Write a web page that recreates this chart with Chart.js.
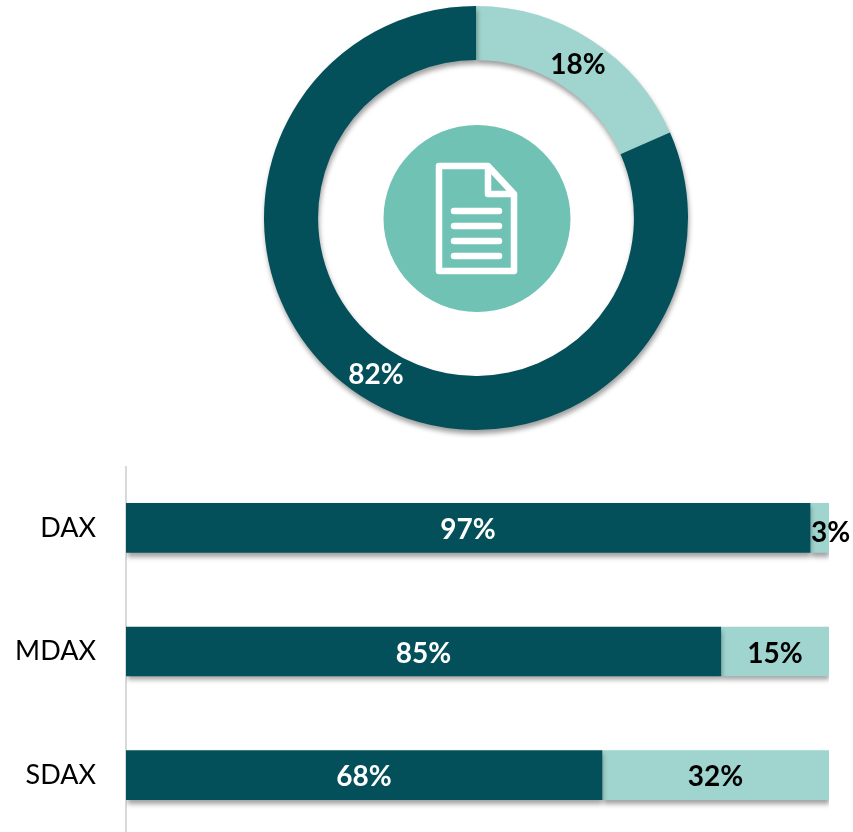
<!DOCTYPE html>
<html>
<head>
<meta charset="utf-8">
<style>
html,body{margin:0;padding:0;width:853px;height:832px;overflow:hidden;background:#fff}
canvas{position:absolute;display:block}
#donut{left:256px;top:-2px}
#bars{left:0;top:466px}
#icon{position:absolute;left:0;top:0}
</style>
<script src="https://cdn.jsdelivr.net/npm/chart.js@4"></script>
</head>
<body>
<canvas id="donut" width="440" height="440" style="width:440px;height:440px"></canvas>
<svg id="icon" width="853" height="440" viewBox="0 0 853 440">
  <circle cx="477" cy="218.500" r="93.500" fill="#70c2b4"/>
  <path d="M439 166H488L514 194V271H439Z" fill="none" stroke="#fff" stroke-width="6.500" stroke-linejoin="round"/>
  <path d="M488 166V194H514" fill="none" stroke="#fff" stroke-width="6.500" stroke-linejoin="round"/>
  <g stroke="#fff" stroke-width="6.500" stroke-linecap="round">
    <line x1="454" y1="211" x2="499" y2="211"/>
    <line x1="454" y1="226" x2="499" y2="226"/>
    <line x1="454" y1="241" x2="499" y2="241"/>
    <line x1="454" y1="256" x2="499" y2="256"/>
  </g>
</svg>
<canvas id="bars" width="853" height="371" style="width:853px;height:371px"></canvas>
<script>
const donutLabels = ["A", "B"];
const donutValues = [18.4, 81.6];
const categories = ["DAX", "MDAX", "SDAX"];
const darkValues = [97.3, 84.6, 67.7];
const lightValues = [2.7, 15.4, 32.3];

const DARK = "#034f5a";
const LIGHT = "#9fd4cf";
const FONT = "Lato, Carlito, sans-serif";

const shadow = {
  id: "softShadow",
  beforeDatasetDraw(chart) {
    const c = chart.ctx;
    c.save();
    c.shadowColor = "rgba(0,0,0,0.38)";
    c.shadowBlur = 5;
    c.shadowOffsetX = 1;
    c.shadowOffsetY = 4;
  },
  afterDatasetDraw(chart) { chart.ctx.restore(); }
};

const valueLabels = {
  id: "valueLabels",
  afterDatasetsDraw(chart) {
    const c = chart.ctx;
    c.save();
    c.font = "bold 28px " + FONT;
    c.textBaseline = "middle";
    chart.data.datasets.forEach((ds, di) => {
      chart.getDatasetMeta(di).data.forEach((el, i) => {
        const v = ds.data[i];
        const text = Math.round(v) + "%";
        const p = el.tooltipPosition();
        c.fillStyle = ds.labelColors ? ds.labelColors[i] : ds.labelColor;
        if (chart.config.type === "bar") {
          if (v < 5) {
            c.textAlign = "left";
            c.fillText(text, el.base + 1, el.y + 5);
          } else {
            c.textAlign = "center";
            c.fillText(text, (el.base + el.x) / 2, el.y + 2);
          }
        } else {
          c.textAlign = "center";
          c.fillText(text, p.x + 1, p.y + 2);
        }
      });
    });
    c.restore();
  }
};

new Chart(document.getElementById("donut"), {
  type: "doughnut",
  data: {
    labels: donutLabels,
    datasets: [{
      data: donutValues,
      backgroundColor: [LIGHT, DARK],
      borderWidth: 0,
      labelColors: ["#000", "#fff"]
    }]
  },
  options: {
    responsive: false,
    animation: false,
    radius: 212,
    cutout: "74.5%",
    plugins: { legend: { display: false }, tooltip: { enabled: false } }
  },
  plugins: [shadow, valueLabels]
});

new Chart(document.getElementById("bars"), {
  type: "bar",
  data: {
    labels: categories,
    datasets: [
      { data: darkValues, backgroundColor: DARK, labelColor: "#fff", barThickness: 49, stack: "s" },
      { data: lightValues, backgroundColor: LIGHT, labelColor: "#000", barThickness: 49, stack: "s" }
    ]
  },
  options: {
    indexAxis: "y",
    responsive: false,
    animation: false,
    layout: { padding: { left: 0, right: 24, top: 0, bottom: 0 } },
    scales: {
      x: { display: false, stacked: true, min: 0, max: 100 },
      y: {
        stacked: true,
        afterFit(s) { s.width = 126; s.paddingTop = 0; s.paddingBottom = 0; },
        grid: { display: false, drawTicks: false },
        border: { display: true, color: "#d9d9d9", width: 2 },
        ticks: { color: "#000", padding: 30, font: { family: FONT, size: 27 } }
      }
    },
    plugins: { legend: { display: false }, tooltip: { enabled: false } }
  },
  plugins: [shadow, valueLabels]
});
</script>
</body>
</html>
